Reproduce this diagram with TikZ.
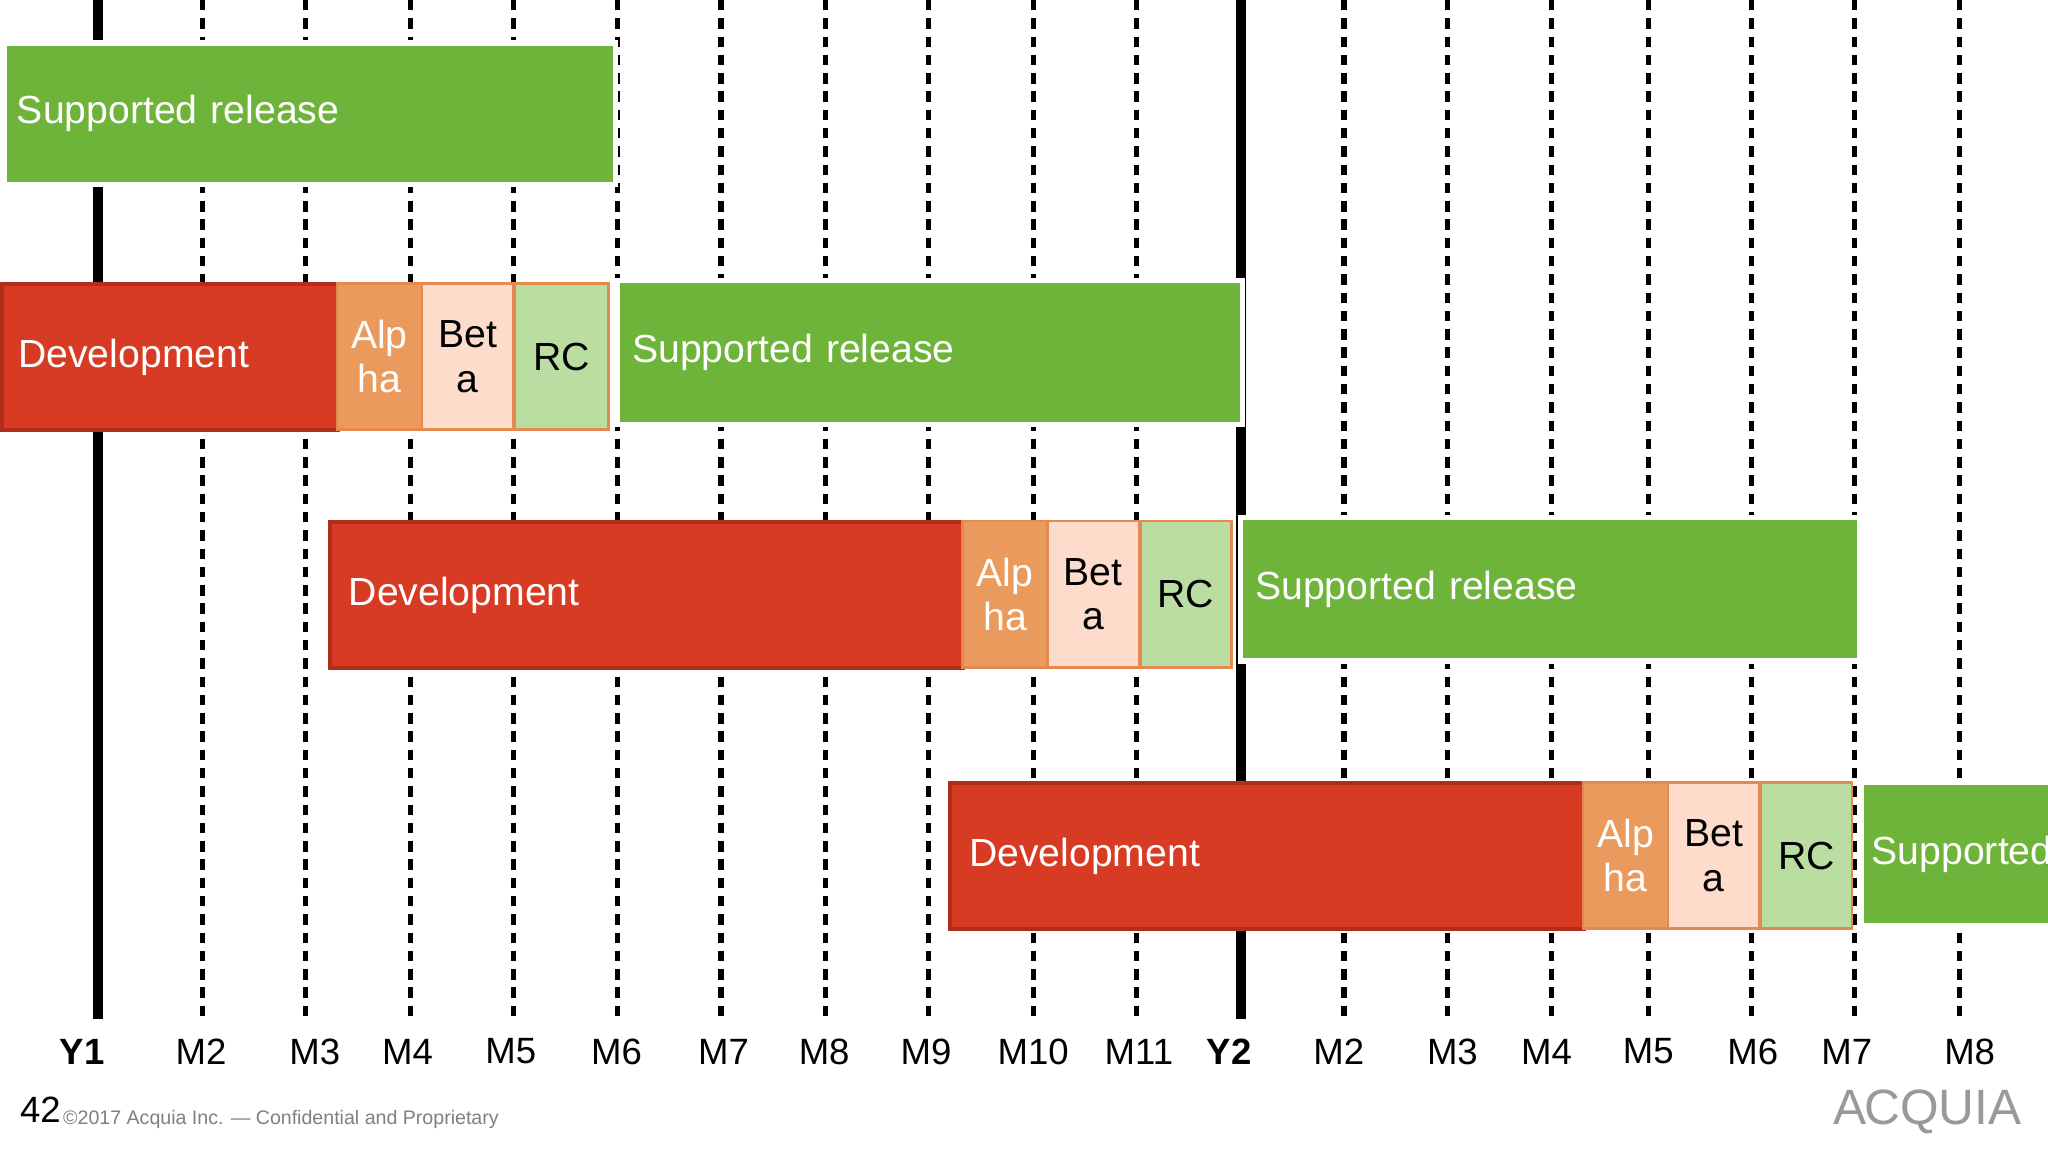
\documentclass[tikz,border=0pt]{standalone}
\usepackage{fontspec}
\setmainfont{Liberation Sans}
\definecolor{grn}{HTML}{6FB43A}
\definecolor{dev}{HTML}{D73B24}
\definecolor{devb}{HTML}{B22E1C}
\definecolor{alp}{HTML}{EA9A5C}
\definecolor{bet}{HTML}{FDDCCB}
\definecolor{rcc}{HTML}{BADDA2}
\definecolor{ob}{HTML}{E48A50}
\begin{document}
\begin{tikzpicture}[x=0.5pt,y=-0.5pt,
  dl/.style={line width=2pt,dash pattern=on 4pt off 3pt},
  sl/.style={line width=4pt},
  bar/.style={anchor=north west,inner sep=0pt,font=\fontsize{15}{17}\selectfont},
  sup/.style={bar,fill=grn,draw=white,line width=2pt,text=white,align=left},
  dv/.style={bar,fill=dev,draw=devb,line width=1.5pt,text=white,align=left},
  al/.style={bar,fill=alp,draw=ob,line width=1pt,text=white,align=center},
  be/.style={bar,fill=bet,draw=ob,line width=1pt,text=black,align=center},
  rc/.style={bar,fill=rcc,draw=ob,line width=1pt,text=black,align=center},
  ml/.style={font=\fontsize{14}{16}\selectfont}]
\useasboundingbox (0,0) rectangle (1568,882);
\fill[white] (0,0) rectangle (1568,882);
% grid lines
\foreach \x/\n in {155/a,234/b,314/c,393/d,473/e,552/f,632/g,711/h,791/i,870/j,1029/k,1108/l,1188/m,1262/n,1341/o,1420/p,1500/q}{
  \coordinate (t\n) at (\x,0); \coordinate (b\n) at (\x,780);
  \draw[dl] (t\n) -- (b\n);}
\coordinate (ty1) at (75,0); \coordinate (by1) at (75,780);
\coordinate (ty2) at (950,0); \coordinate (by2) at (950,780);
\draw[sl] (ty1) -- (by1);
\draw[sl] (ty2) -- (by2);
% row 1
\node[sup,minimum width=234pt,minimum height=54pt,text width=230pt] (s1) at (1,31) {\hspace*{3pt}Supported release};
% row 2
\node[dv,minimum width=128.5pt,minimum height=56pt,text width=124pt] (d2) at (0,216) {\hspace*{4pt}Development};
\node[al,minimum width=32.5pt,minimum height=56pt] (a2) at (257,216) {Alp\\ha};
\node[be,minimum width=35pt,minimum height=56pt] (e2) at (322,216) {Bet\\a};
\node[rc,minimum width=36pt,minimum height=56pt] (r2) at (393,216) {RC};
\node[sup,minimum width=239pt,minimum height=55pt,text width=234pt] (s2) at (471,213) {\hspace*{3pt}Supported release};
% row 3
\node[dv,minimum width=242.5pt,minimum height=56pt,text width=236pt] (d3) at (251,398) {\hspace*{4pt}Development};
\node[al,minimum width=32.5pt,minimum height=56pt] (a3) at (736,398) {Alp\\ha};
\node[be,minimum width=35pt,minimum height=56pt] (e3) at (801,398) {Bet\\a};
\node[rc,minimum width=35pt,minimum height=56pt] (r3) at (872,398) {RC};
\node[sup,minimum width=237pt,minimum height=55pt,text width=232pt] (s3) at (948,394) {\hspace*{3pt}Supported release};
% row 4
\node[dv,minimum width=242.5pt,minimum height=56pt,text width=236pt] (d4) at (726,598) {\hspace*{4pt}Development};
\node[al,minimum width=32.5pt,minimum height=56pt] (a4) at (1211,598) {Alp\\ha};
\node[be,minimum width=35pt,minimum height=56pt] (e4) at (1276,598) {Bet\\a};
\node[rc,minimum width=35pt,minimum height=56pt] (r4) at (1347,598) {RC};
\node[sup,minimum width=80pt,minimum height=55pt,text width=78pt] (s4) at (1423,597) {\hspace*{3pt}Supported};
% labels
\foreach \x/\t in {154/M2,241/M3,312/M4,391/M5,472/M6,554/M7,631/M8,709/M9,791/M10,872/M11,1025/M2,1112/M3,1184/M4,1262/M5,1342/M6,1414/M7,1508/M8}
  \node[ml] at (\x,805) {\t};
\node[ml,font=\fontsize{14}{16}\selectfont\bfseries] (ly1) at (63,805) {Y1};
\node[ml,font=\fontsize{14}{16}\selectfont\bfseries] (ly2) at (941,805) {Y2};
\node[font=\fontsize{14}{16}\selectfont,anchor=west,inner sep=0pt] (pg) at (15,850) {42};
\node[font=\fontsize{7.5}{9}\selectfont,text=gray,anchor=west,inner sep=0pt] (cp) at (48,857) {©2017 Acquia Inc. — Confidential and Proprietary};
\node[font=\fontsize{19}{21}\selectfont,text=gray!80,anchor=east,inner sep=0pt] (lg) at (1548,851) {A\kern-1ptCQUIA};
\end{tikzpicture}
\end{document}
